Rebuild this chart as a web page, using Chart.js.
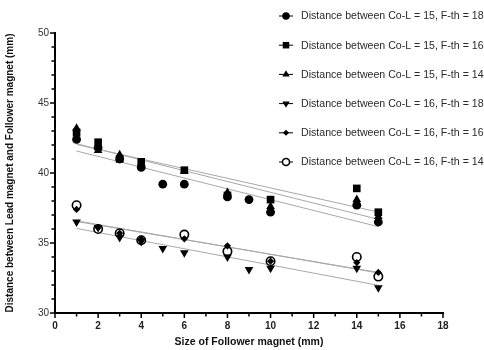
<!DOCTYPE html>
<html>
<head>
<meta charset="utf-8">
<script src="https://cdn.jsdelivr.net/npm/chart.js@4/dist/chart.umd.min.js"></script>
<style>
  html, body { margin: 0; padding: 0; background: #fff; }
  #wrap { position: relative; width: 484px; height: 350px; }
</style>
</head>
<body>
<div id="wrap"><canvas id="chart" width="484" height="350"></canvas></div>
<script>
const seriesNames = [
  'Distance between Co-L = 15, F-th = 18',
  'Distance between Co-L = 15, F-th = 16',
  'Distance between Co-L = 15, F-th = 14',
  'Distance between Co-L = 16, F-th = 18',
  'Distance between Co-L = 16, F-th = 16',
  'Distance between Co-L = 16, F-th = 14'
];

// follower magnet sizes (mm)
const sizesAll = [1, 2, 3, 4, 5, 6, 8, 9, 10, 14, 15];
const sizesMost = [1, 2, 3, 4, 6, 8, 10, 14, 15];

const col15fth18 = [42.4, 41.8, 41.0, 40.4, 39.2, 39.2, 38.3, 38.1, 37.2, 37.7, 36.5];
const col15fth16 = [42.9, 42.2, 41.0, 40.8, 40.2, 38.4, 38.1, 38.9, 37.2];
const col15fth14 = [43.2, 41.6, 41.3, 40.6, 40.1, 38.6, 37.6, 38.1, 36.9];
const col16fth18 = [36.5, 36.1, 35.4, 35.1, 34.6, 34.3, 34.0, 33.1, 33.2, 33.2, 31.8];
const col16fth16 = [37.4, 36.1, 35.7, 35.3, 35.3, 34.8, 33.7, 33.6, 32.9];
const col16fth14 = [37.7, 36.0, 35.7, 35.2, 35.6, 34.4, 33.7, 34.0, 32.6];

const yTicks = [30, 35, 40, 45, 50];
const xTicks = [0, 2, 4, 6, 8, 10, 12, 14, 16, 18];

const seriesX = [sizesAll, sizesMost, sizesMost, sizesAll, sizesMost, sizesMost];
const seriesY = [col15fth18, col15fth16, col15fth14, col16fth18, col16fth16, col16fth14];

const markers = [
  { pointStyle: 'circle', radius: 4.4, rotation: 0, fill: '#000', border: 0 },
  { pointStyle: 'rect', radius: 5.4, rotation: 0, fill: '#000', border: 0 },
  { pointStyle: 'triangle', radius: 5, rotation: 0, fill: '#000', border: 0 },
  { pointStyle: 'triangle', radius: 5, rotation: 180, fill: '#000', border: 0 },
  { pointStyle: 'rectRot', radius: 3.6, rotation: 0, fill: '#000', border: 0 },
  { pointStyle: 'circle', radius: 4.2, rotation: 0, fill: '#fff', border: 1.6 }
];

// least squares line through a series
function fitLine(xs, ys) {
  const n = xs.length;
  const mx = xs.reduce((a, b) => a + b, 0) / n;
  const my = ys.reduce((a, b) => a + b, 0) / n;
  let sxy = 0, sxx = 0;
  xs.forEach((x, i) => {
    sxy += (x - mx) * (ys[i] - my);
    sxx += (x - mx) * (x - mx);
  });
  const slope = sxy / sxx;
  const x0 = Math.min(...xs), x1 = Math.max(...xs);
  return [
    { x: x0, y: my + slope * (x0 - mx) },
    { x: x1, y: my + slope * (x1 - mx) }
  ];
}

const datasets = [];
seriesNames.forEach((name, i) => {
  const m = markers[i];
  datasets.push({
    type: 'scatter',
    label: name,
    data: seriesX[i].map((x, j) => ({ x: x, y: seriesY[i][j] })),
    pointStyle: m.pointStyle,
    pointRadius: m.radius,
    pointHoverRadius: m.radius,
    pointRotation: m.rotation,
    pointBackgroundColor: m.fill,
    pointBorderColor: '#000',
    pointBorderWidth: m.border,
    order: 1
  });
});
seriesNames.forEach((name, i) => {
  datasets.push({
    type: 'line',
    label: 'fit ' + name,
    data: fitLine(seriesX[i], seriesY[i]),
    borderColor: '#a8a8a8',
    borderWidth: 1,
    pointRadius: 0,
    fill: false,
    order: 2
  });
});

// tick marks (major + minor) drawn by hand
const tickMarks = {
  id: 'tickMarks',
  afterDraw(chart) {
    const c = chart.ctx;
    const xs = chart.scales.x, ys = chart.scales.y;
    const left = chart.chartArea.left, bottom = chart.chartArea.bottom;
    c.save();
    c.strokeStyle = '#000';
    c.lineWidth = 1.5;
    c.beginPath();
    for (let v = 30; v <= 50; v++) {
      const py = ys.getPixelForValue(v);
      const len = v % 5 === 0 ? 5 : 3.5;
      c.moveTo(left, py);
      c.lineTo(left - len, py);
    }
    for (let v = 0; v <= 18; v++) {
      const px = xs.getPixelForValue(v);
      const len = v % 2 === 0 ? 5 : 3.5;
      c.moveTo(px, bottom);
      c.lineTo(px, bottom + len);
    }
    c.stroke();
    c.restore();
  }
};

// legend in the top right, marker on a short line
const sideLegend = {
  id: 'sideLegend',
  afterDraw(chart) {
    const c = chart.ctx;
    c.save();
    c.font = '10.6px "Liberation Sans", Arial, sans-serif';
    c.textBaseline = 'middle';
    c.textAlign = 'left';
    seriesNames.forEach((name, i) => {
      const y = 16 + i * 29.2;
      const m = markers[i];
      c.strokeStyle = '#000';
      c.lineWidth = 1;
      c.beginPath();
      c.moveTo(279, y);
      c.lineTo(293, y);
      c.stroke();
      c.fillStyle = m.fill;
      c.strokeStyle = '#000';
      c.lineWidth = m.border;
      Chart.helpers.drawPoint(c, {
        pointStyle: m.pointStyle,
        rotation: m.rotation,
        radius: m.radius * 0.85,
        borderWidth: m.border
      }, 286, y);
      c.fillStyle = '#2a2a2a';
      c.fillText(name, 301, y + 0.5);
    });
    c.restore();
  }
};

new Chart(document.getElementById('chart'), {
  type: 'scatter',
  data: { datasets: datasets },
  options: {
    responsive: false,
    animation: false,
    layout: { padding: { top: 33, right: 41, left: 4, bottom: 0 } },
    plugins: {
      legend: { display: false },
      tooltip: { enabled: false }
    },
    scales: {
      x: {
        type: 'linear',
        min: 0,
        max: 18,
        afterFit: s => { s.height = 37; },
        afterBuildTicks: s => { s.ticks = xTicks.map(v => ({ value: v })); },
        grid: { display: false, drawTicks: false },
        border: { display: true, color: '#000', width: 2 },
        ticks: {
          padding: 7,
          color: '#222',
          font: { family: '"Liberation Sans", Arial, sans-serif', size: 10, weight: 'bold' }
        },
        title: {
          display: true,
          text: 'Size of Follower magnet (mm)',
          color: '#111',
          padding: { top: 2, bottom: 2 },
          font: { family: '"Liberation Sans", Arial, sans-serif', size: 10.5, weight: 'bold' }
        }
      },
      y: {
        type: 'linear',
        min: 30,
        max: 50,
        afterFit: s => { s.width = 51; },
        afterBuildTicks: s => { s.ticks = yTicks.map(v => ({ value: v })); },
        grid: { display: false, drawTicks: false },
        border: { display: true, color: '#000', width: 2 },
        ticks: {
          padding: 6,
          color: '#333',
          font: { family: '"Liberation Sans", Arial, sans-serif', size: 10 }
        },
        title: {
          display: true,
          text: 'Distance between Lead magnet and Follower magnet (mm)',
          color: '#111',
          padding: { top: 0, bottom: 4 },
          font: { family: '"Liberation Sans", Arial, sans-serif', size: 10, weight: 'bold' }
        }
      }
    }
  },
  plugins: [tickMarks, sideLegend]
});
</script>
</body>
</html>
